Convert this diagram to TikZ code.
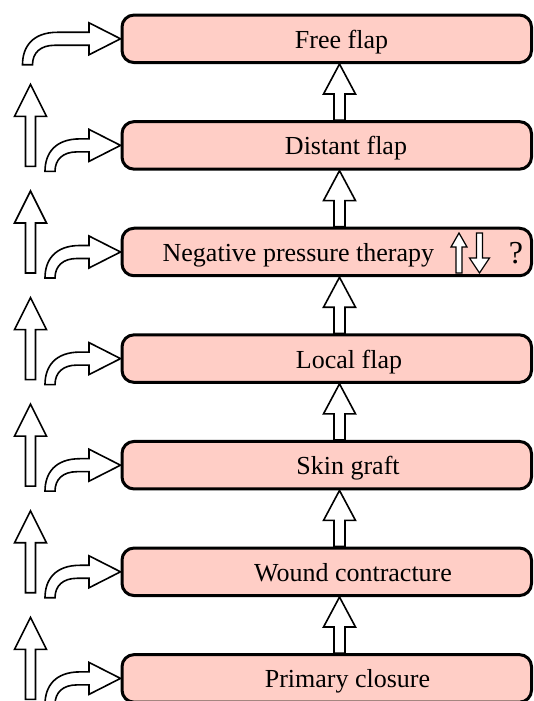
\documentclass[tikz,border=0pt]{standalone}
\usepackage{fontspec}
\setmainfont{Liberation Serif}
\usetikzlibrary{calc}
\definecolor{stagepink}{RGB}{255,206,198}
\begin{document}
\begin{tikzpicture}[x=1pt,y=1pt,
        stage/.style={draw,line width=3pt,fill=stagepink,rounded corners=12pt,minimum width=409.5pt,minimum height=47.5pt,inner sep=0pt},
        stagetext/.style={anchor=base,font=\fontsize{26}{30}\selectfont},
        blockarrow/.style={draw,fill=white,line width=1.6pt,line join=miter}]
        \def\pitch{106.6}
        \useasboundingbox (0,0) rectangle (533,701);
        \clip (0,0) rectangle (533,701);
        \coordinate (mid) at (339.5,0);
        %% stages
        \foreach \i/\name/\x in {0/Free flap/341.5,1/Distant flap/346,2/Negative pressure therapy/298.4,3/Local flap/349,4/Skin graft/348,5/Wound contracture/353,6/Primary closure/347.5}{
            \node[stage] (stage\i) at (326.75,{662.2-\pitch*\i}) {};
            \node[stagetext] (label\i) at (\x,{662.2-\pitch*\i-9.5}) {\name};
        }
        %% arrows between stages
        \foreach \i [evaluate=\i as \j using int(\i+1)] in {0,...,5}
            \draw[blockarrow] let \p1=(stage\i.south -| mid), \p2=(stage\j.north -| mid) in
                (\x1,\y1) -- (\x1+16pt,\y1-30pt) -- (\x1+5.5pt,\y1-30pt) -- (\x1+5.5pt,\y2)
                -- (\x1-5.5pt,\y2) -- (\x1-5.5pt,\y1-30pt) -- (\x1-16pt,\y1-30pt) -- cycle;
        %% curved arrows into stages
        \foreach \i in {0,...,6}{
            \pgfmathsetmacro\yc{662.2-\pitch*\i}
            \pgfmathsetmacro\xt{\i==0 ? 27.5 : 50}
            \draw[blockarrow] ({\xt-5},{\yc-26}) .. controls ({\xt-5},{\yc-8}) and ({\xt+5},{\yc+6.5}) .. ({\xt+30},{\yc+6.5})
                -- (89,{\yc+6.5}) -- (89,{\yc+16}) -- (stage\i.west) -- (89,{\yc-16}) -- (89,{\yc-6.5})
                -- ({\xt+27},{\yc-6.5}) .. controls ({\xt+13},{\yc-6.5}) and ({\xt+5},{\yc-14}) .. ({\xt+5},{\yc-26}) -- cycle;
        }
        %% side arrows
        \foreach \i in {1,...,6}{
            \pgfmathsetmacro\yc{662.2-\pitch*\i}
            \draw[blockarrow] (30.5,{\yc+61}) -- (46.5,{\yc+29}) -- (35.5,{\yc+29}) -- (35.5,{\yc-21})
                -- (25.5,{\yc-21}) -- (25.5,{\yc+29}) -- (14.5,{\yc+29}) -- cycle;
        }
        %% up and down, unsure
        \draw[blockarrow,line width=1.2pt] (459,468) -- (467,454) -- (462,454) -- (462,428) -- (456,428) -- (456,454) -- (451,454) -- cycle;
        \draw[blockarrow,line width=1.2pt] (479.5,428) -- (489.5,443) -- (482.5,443) -- (482.5,468) -- (476.5,468) -- (476.5,443) -- (469.5,443) -- cycle;
        \node[anchor=base,font=\fontsize{32}{36}\selectfont] (query) at (516,437) {?};
\end{tikzpicture}
\end{document}
